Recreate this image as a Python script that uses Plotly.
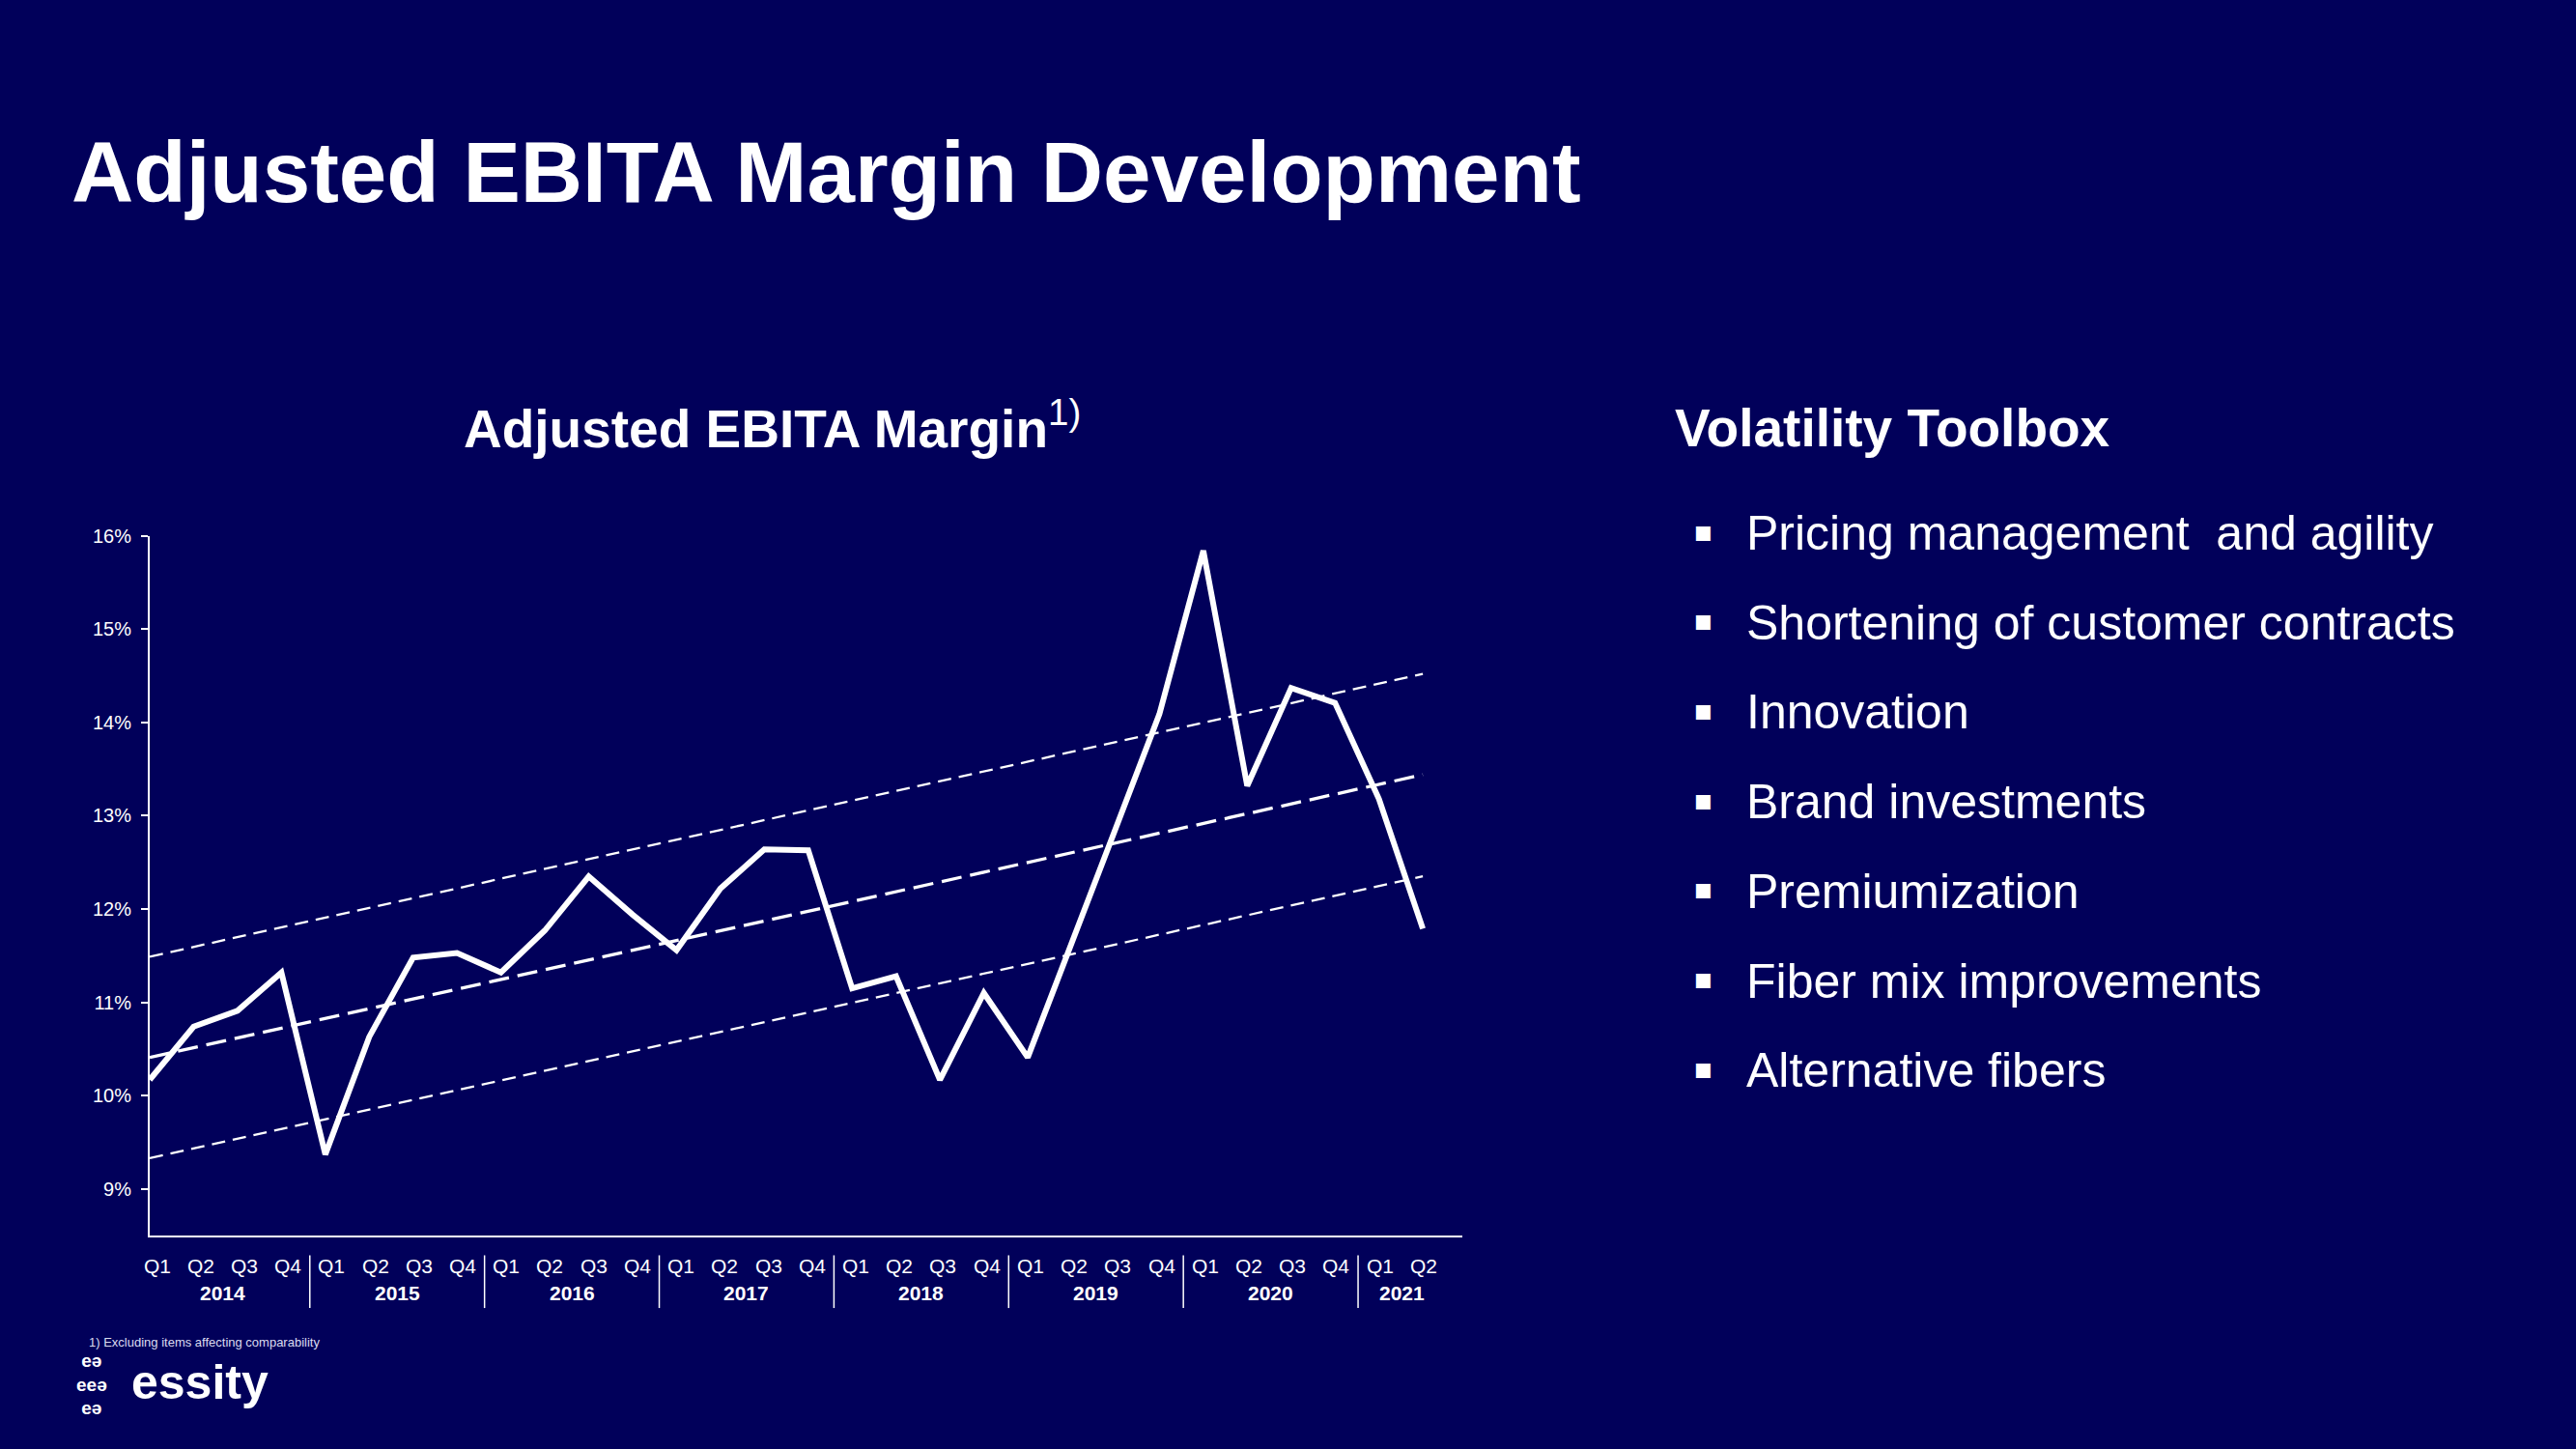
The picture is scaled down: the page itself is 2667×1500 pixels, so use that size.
import plotly.graph_objects as go

# ---------------- data ----------------
years = ["2014", "2015", "2016", "2017", "2018", "2019", "2020", "2021"]
quarters_per_year = [4, 4, 4, 4, 4, 4, 4, 2]
quarter_labels = ["Q1", "Q2", "Q3", "Q4"] * 7 + ["Q1", "Q2"]

margin_pct = [
    10.17, 10.74, 10.91, 11.32,   # 2014
    9.37, 10.63, 11.48, 11.53,    # 2015
    11.32, 11.77, 12.35, 11.94,   # 2016
    11.56, 12.22, 12.64, 12.63,   # 2017
    11.15, 11.28, 10.17, 11.10,   # 2018
    10.41, 11.62, 12.86, 14.09,   # 2019
    15.84, 13.32, 14.37, 14.21,   # 2020
    13.18, 11.79,                 # 2021
]

trend_mid = [10.41, 13.44]
trend_upper = [11.49, 14.52]
trend_lower = [9.33, 12.35]

y_ticks = [9, 10, 11, 12, 13, 14, 15, 16]
y_tick_labels = [f"{v}%" for v in y_ticks]

bullets = [
    "Pricing management  and agility",
    "Shortening of customer contracts",
    "Innovation",
    "Brand investments",
    "Premiumization",
    "Fiber mix improvements",
    "Alternative fibers",
]

# ---------------- layout constants ----------------
W, H = 2667, 1500
BG = "#01005a"
FONT = "Liberation Sans, Arial, Helvetica, sans-serif"


def px(x):
    return x / W


def py(y):
    return 1 - y / H


n = len(margin_pct)
idx = list(range(n))

fig = go.Figure()

# trend band lines
for vals, width, dash in [
    (trend_upper, 2.3, "14px,8px"),
    (trend_lower, 2.3, "14px,8px"),
    (trend_mid, 3.3, "21px,9px"),
]:
    fig.add_trace(go.Scatter(
        x=[idx[0], idx[-1]], y=vals, mode="lines",
        line=dict(color="white", width=width, dash=dash),
        hoverinfo="skip", showlegend=False,
    ))

# main series
fig.add_trace(go.Scatter(
    x=idx, y=margin_pct, mode="lines",
    line=dict(color="white", width=6),
    showlegend=False,
))

annotations = []
shapes = []

# titles
annotations.append(dict(
    text="<b>Adjusted EBITA Margin Development</b>", x=px(72), y=py(168),
    xref="paper", yref="paper", xanchor="left", yanchor="middle", showarrow=False,
    font=dict(family=FONT, size=89, color="white"),
))
annotations.append(dict(
    text="<b>Adjusted EBITA Margin</b><sup>1)</sup>", x=px(478), y=py(432),
    xref="paper", yref="paper", xanchor="left", yanchor="middle", showarrow=False,
    font=dict(family=FONT, size=55, color="white"),
))
annotations.append(dict(
    text="<b>Volatility Toolbox</b>", x=px(1732), y=py(435),
    xref="paper", yref="paper", xanchor="left", yanchor="middle", showarrow=False,
    font=dict(family=FONT, size=55, color="white"),
))

# bullet list
for k, b in enumerate(bullets):
    yc = 545 + k * 93.4
    annotations.append(dict(
        text="▪", x=px(1763), y=py(yc - 3),
        xref="paper", yref="paper", xanchor="center", yanchor="middle", showarrow=False,
        font=dict(family="DejaVu Sans", size=30, color="white"),
    ))
    annotations.append(dict(
        text=b, x=px(1806), y=py(yc),
        xref="paper", yref="paper", xanchor="left", yanchor="middle", showarrow=False,
        font=dict(family=FONT, size=50, color="white"),
    ))

# category labels table under the axis
LABEL_X0, LABEL_DX = 162.5, 45.22


def label_x(i):
    return px(LABEL_X0 + i * LABEL_DX)


for i, q in enumerate(quarter_labels):
    annotations.append(dict(
        text=q, x=label_x(i), y=py(1309),
        xref="paper", yref="paper", xanchor="center", yanchor="middle", showarrow=False,
        font=dict(family=FONT, size=21, color="white"),
    ))

start = 0
for yr, cnt in zip(years, quarters_per_year):
    annotations.append(dict(
        text=f"<b>{yr}</b>", x=label_x(start + (cnt - 1) / 2), y=py(1337),
        xref="paper", yref="paper", xanchor="center", yanchor="middle", showarrow=False,
        font=dict(family=FONT, size=21, color="white"),
    ))
    start += cnt
    if start < n:
        xs = label_x(start - 0.5)
        shapes.append(dict(
            type="line", xref="paper", yref="paper",
            x0=xs, x1=xs, y0=py(1298), y1=py(1353),
            line=dict(color="white", width=1.5),
        ))

# footnote
annotations.append(dict(
    text="1) Excluding items affecting comparability", x=px(90), y=py(1389),
    xref="paper", yref="paper", xanchor="left", yanchor="middle", showarrow=False,
    font=dict(family=FONT, size=13, color="#dcdcf0"),
))

# logo
annotations.append(dict(
    text="<b>essity</b>", x=px(134), y=py(1430),
    xref="paper", yref="paper", xanchor="left", yanchor="middle", showarrow=False,
    font=dict(family=FONT, size=50, color="white"),
))
annotations.append(dict(
    text="<b>eə<br>eeə<br>eə</b>", x=px(95), y=py(1433),
    xref="paper", yref="paper", xanchor="center", yanchor="middle", showarrow=False,
    align="center",
    font=dict(family=FONT, size=19, color="white"),
))

fig.update_layout(
    width=W, height=H,
    margin=dict(l=0, r=0, t=0, b=0),
    paper_bgcolor=BG, plot_bgcolor=BG,
    showlegend=False,
    annotations=annotations,
    shapes=shapes,
    xaxis=dict(
        domain=[px(155), px(1514)], range=[0, 29.9],
        showline=True, linecolor="white", linewidth=2,
        showticklabels=False, ticks="", showgrid=False, zeroline=False,
    ),
    yaxis=dict(
        domain=[py(1277.5), py(547.7)], range=[8.5, 16],
        showline=True, linecolor="white", linewidth=2,
        ticks="outside", ticklen=7, tickwidth=2, tickcolor="white",
        tickmode="array", tickvals=y_ticks, ticktext=y_tick_labels,
        tickfont=dict(family=FONT, size=20, color="white"),
        ticklabelstandoff=6,
        showgrid=False, zeroline=False,
    ),
)

fig.write_html(
    "out.html",
    config={"displayModeBar": False},
    post_script=(
        "document.body.style.margin='0';"
        "document.body.style.padding='0';"
        "document.body.style.overflow='hidden';"
        f"document.body.style.backgroundColor='{BG}';"
    ),
)
